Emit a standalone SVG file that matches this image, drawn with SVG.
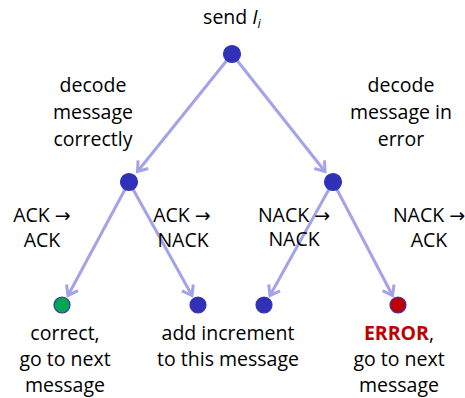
<svg xmlns="http://www.w3.org/2000/svg" width="465" height="398" viewBox="0 0 465 398">
<style>
text{font-family:"Open Sans","Noto Sans",sans-serif;font-size:19.5px;fill:#000;text-anchor:middle}
.ar{font-family:"DejaVu Sans",sans-serif;font-size:19px}
.edge{stroke:#a3a3e6;stroke-width:3;fill:none;marker-end:url(#ah)}
.n{stroke:#3434b4;stroke-width:1.2}
.b{fill:#3030b8}
.g{fill:#00a650}
.r{fill:#c00000}
.err{fill:#c00000;font-weight:bold}
</style>
<defs>
<marker id="ah" markerUnits="userSpaceOnUse" markerWidth="20" markerHeight="20" refX="0" refY="0" viewBox="-12 -10 16 20" orient="auto">
<path d="M-9,-6.5 L0,0 L-9,6.5" fill="none" stroke="#a3a3e6" stroke-width="3"/>
</marker>
</defs>
<g id="connectors">
<line class="edge" x1="232" y1="54" x2="137.5" y2="171.5"/>
<line class="edge" x1="232" y1="54" x2="325" y2="171.5"/>
<line class="edge" x1="129" y1="182" x2="68" y2="295.5"/>
<line class="edge" x1="129" y1="182" x2="192" y2="295.5"/>
<line class="edge" x1="333" y1="182" x2="270" y2="295.5"/>
<line class="edge" x1="333" y1="182" x2="392.5" y2="295.5"/>
</g>
<g id="root">
<circle class="n b" cx="232" cy="54" r="8.5"/>
<text x="232" y="24">send <tspan font-style="italic">I</tspan><tspan font-style="italic" font-size="13" dy="4">i</tspan></text>
</g>
<g id="left">
<circle class="n b" cx="129" cy="182" r="8.5"/>
<text x="93" y="92">decode</text>
<text x="93" y="119">message</text>
<text x="93" y="146">correctly</text>
</g>
<g id="right">
<circle class="n b" cx="333" cy="182" r="8.5"/>
<text x="401" y="92">decode</text>
<text x="401" y="119">message in</text>
<text x="401" y="146">error</text>
</g>
<g id="edge-labels">
<text x="42" y="222">ACK <tspan class="ar">→</tspan></text>
<text x="42" y="247">ACK</text>
<text x="182" y="222">ACK <tspan class="ar">→</tspan></text>
<text x="183" y="247">NACK</text>
<text x="294" y="222">NACK <tspan class="ar">→</tspan></text>
<text x="294" y="246">NACK</text>
<text x="429" y="222">NACK <tspan class="ar">→</tspan></text>
<text x="429" y="247">ACK</text>
</g>
<g id="leaf1">
<circle class="n g" cx="62" cy="305" r="8"/>
<text x="65" y="340">correct,</text>
<text x="65" y="366">go to next</text>
<text x="65" y="392">message</text>
</g>
<g id="leaf2">
<circle class="n b" cx="198" cy="305" r="8"/>
<text x="228" y="340">add increment</text>
<text x="228" y="366">to this message</text>
</g>
<g id="leaf3">
<circle class="n b" cx="264" cy="305" r="8"/>
</g>
<g id="leaf4">
<circle class="n r" cx="398" cy="305" r="8"/>
<text x="399" y="340"><tspan class="err">ERROR</tspan>,</text>
<text x="399" y="366">go to next</text>
<text x="399" y="392">message</text>
</g>
</svg>
